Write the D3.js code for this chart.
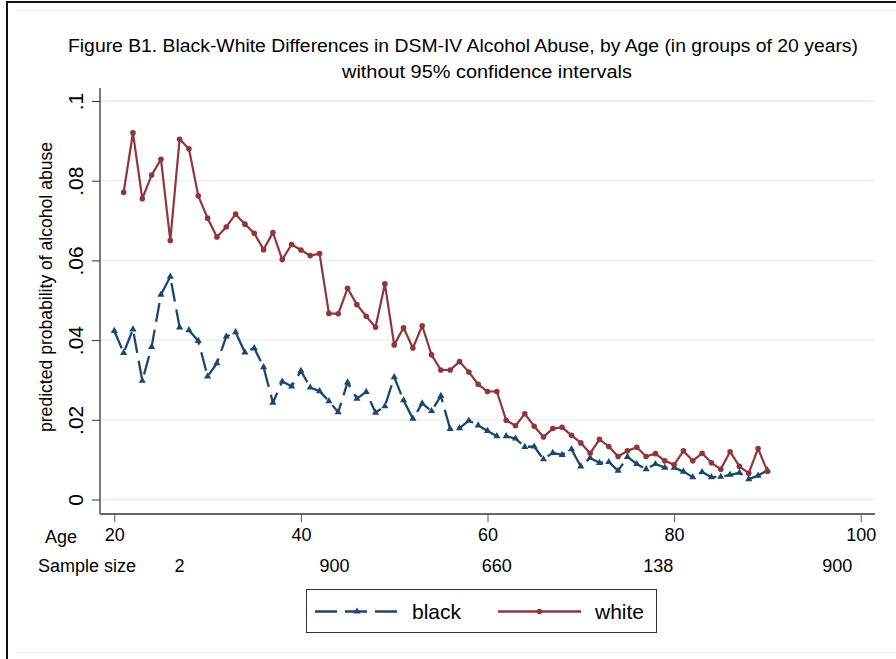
<!DOCTYPE html>
<html>
<head>
<meta charset="utf-8">
<script src="https://cdn.jsdelivr.net/npm/d3@7/dist/d3.min.js"></script>
<style>
  html, body { margin: 0; padding: 0; background: #fff; }
  svg { display: block; font-family: "Liberation Sans", Arial, sans-serif; }
</style>
</head>
<body>
<svg id="chart" width="896" height="659"></svg>
<script>
// Predicted probability of DSM-IV alcohol abuse by single year of age
const blackAges = [20,21,22,23,24,25,26,27,28,29,30,31,32,33,34,35,36,37,38,39,40,41,42,43,44,45,46,47,48,49,50,51,52,53,54,55,56,57,58,59,60,61,62,63,64,65,66,67,68,69,70,71,72,73,74,75,76,77,78,79,80,81,82,83,84,85,86,87,88,89,90];
const blackValues = [
  .0423,.0368,.0427,.0298,.0383,.0514,.0559,.0432,.0425,.0398,
  .0309,.0342,.0409,.0420,.0369,.0380,.0332,.0243,.0296,.0284,
  .0323,.0281,.0272,.0247,.0219,.0294,.0253,.0270,.0218,.0234,
  .0307,.0249,.0203,.0241,.0222,.0260,.0177,.0179,.0198,.0186,
  .0172,.0159,.0159,.0153,.0132,.0133,.0101,.0117,.0112,.0126,
  .0083,.0104,.0092,.0094,.0072,.0107,.0089,.0076,.0089,.0080,
  .0080,.0070,.0056,.0069,.0056,.0057,.0062,.0067,.0051,.0060,
  .0073
];
const whiteAges = [21,22,23,24,25,26,27,28,29,30,31,32,33,34,35,36,37,38,39,40,41,42,43,44,45,46,47,48,49,50,51,52,53,54,55,56,57,58,59,60,61,62,63,64,65,66,67,68,69,70,71,72,73,74,75,76,77,78,79,80,81,82,83,84,85,86,87,88,89,90];
const whiteValues = [
  .0771,.0920,.0755,.0814,.0854,.0650,.0904,.0880,.0762,.0706,
  .0659,.0684,.0716,.0691,.0668,.0627,.0670,.0602,.0640,.0626,
  .0612,.0617,.0467,.0466,.0530,.0489,.0460,.0432,.0541,.0388,
  .0431,.0380,.0436,.0363,.0325,.0325,.0346,.0320,.0289,.0271,
  .0271,.0199,.0185,.0215,.0184,.0157,.0178,.0181,.0161,.0142,
  .0116,.0151,.0133,.0108,.0122,.0131,.0108,.0115,.0097,.0087,
  .0122,.0097,.0116,.0092,.0076,.0120,.0083,.0066,.0128,.0071
];
const ageTicks = [20, 40, 60, 80, 100];
const probTicks = [0, .02, .04, .06, .08, .1];
const probTickLabels = ["0", ".02", ".04", ".06", ".08", ".1"];
const sampleSizeLabels = ["2", "900", "660", "138", "900"];
const sampleSizeAt = [27, 43.6, 61, 78.3, 97.5];
const seriesNames = ["black", "white"];

const navy = "#1a476f", maroon = "#90353b", grid = "#e6eef0";

const svg = d3.select("#chart");

// graph region frame
svg.append("rect").attr("x", 7).attr("y", 2).attr("width", 1000).attr("height", 1000)
  .attr("fill", "#fff").attr("stroke", "#111").attr("stroke-width", 2);
[10.5, 652.5].forEach(yy => svg.append("line")
  .attr("x1", 16).attr("x2", 896).attr("y1", yy).attr("y2", yy)
  .attr("stroke", "#e6eef0").attr("stroke-width", 1.2));

// plot region
const plotLeft = 100, plotRight = 875, plotTop = 88, plotBottom = 514;
const x = d3.scaleLinear().domain([20, 100]).range([114.3, 860.7]);
const y = d3.scaleLinear().domain([0, .1]).range([499.5, 101]);

// horizontal grid
svg.append("g").selectAll("line").data(probTicks).join("line")
  .attr("x1", plotLeft + 1).attr("x2", plotRight)
  .attr("y1", d => y(d)).attr("y2", d => y(d))
  .attr("stroke", grid).attr("stroke-width", 1.3);

// y axis
const yAxis = d3.axisLeft(y).tickValues(probTicks).tickSize(8).tickPadding(0)
  .tickFormat((d, i) => probTickLabels[i]);
const gy = svg.append("g").attr("transform", `translate(${plotLeft},0)`).call(yAxis);
gy.attr("font-size", null).attr("font-family", null);
gy.select(".domain").attr("d", `M0,${plotTop}V${plotBottom}`).attr("stroke", "#222").attr("stroke-width", 1.2);
gy.selectAll(".tick line").attr("stroke", "#333");
gy.selectAll(".tick text")
  .attr("x", 0).attr("dy", 0)
  .attr("text-anchor", "middle")
  .attr("transform", "translate(-17,0) rotate(-90)")
  .style("font-size", "21px").attr("fill", "#000");

// x axis
const xAxis = d3.axisBottom(x).tickValues(ageTicks).tickSize(8).tickPadding(6).tickFormat(d3.format("d"));
const gx = svg.append("g").attr("transform", `translate(0,${plotBottom})`).call(xAxis);
gx.attr("font-size", null).attr("font-family", null);
gx.select(".domain").attr("d", `M${plotLeft},0H${plotRight}`).attr("stroke", "#666").attr("stroke-width", 2);
gx.selectAll(".tick line").attr("stroke", "#555");
gx.selectAll(".tick text").style("font-size", "18px").attr("fill", "#000");

// extra rows under the age axis
svg.append("text").attr("x", 45).attr("y", 543).attr("font-size", 18).text("Age");
svg.append("text").attr("x", 38).attr("y", 572).attr("font-size", 18).text("Sample size");
svg.append("g").selectAll("text").data(sampleSizeLabels).join("text")
  .attr("x", (d, i) => x(sampleSizeAt[i])).attr("y", 572)
  .attr("text-anchor", "middle").attr("font-size", 18).text(d => d);

// titles
svg.append("text").attr("x", 463).attr("y", 52).attr("text-anchor", "middle")
  .attr("font-size", 17.5).attr("textLength", 790).attr("lengthAdjust", "spacingAndGlyphs")
  .text("Figure B1. Black-White Differences in DSM-IV Alcohol Abuse, by Age (in groups of 20 years)");
svg.append("text").attr("x", 487).attr("y", 78).attr("text-anchor", "middle")
  .attr("font-size", 17.5).attr("textLength", 290).attr("lengthAdjust", "spacingAndGlyphs")
  .text("without 95% confidence intervals");
svg.append("text").attr("transform", "translate(52,287) rotate(-90)").attr("text-anchor", "middle")
  .attr("font-size", 17.5).attr("textLength", 290).attr("lengthAdjust", "spacingAndGlyphs")
  .text("predicted probability of alcohol abuse");

// series
const line = d3.line().x(d => x(d[0])).y(d => y(d[1]));
const blackPts = blackAges.map((a, i) => [a, blackValues[i]]);
const whitePts = whiteAges.map((a, i) => [a, whiteValues[i]]);

svg.append("path").datum(blackPts).attr("d", line).attr("fill", "none")
  .attr("stroke", navy).attr("stroke-width", 2.3).attr("stroke-dasharray", "19,8")
  .attr("stroke-linejoin", "round");
const tri = d3.symbol().type(d3.symbolTriangle).size(22);
svg.append("g").selectAll("path").data(blackPts).join("path")
  .attr("d", tri).attr("transform", d => `translate(${x(d[0])},${y(d[1])})`).attr("fill", navy);

svg.append("path").datum(whitePts).attr("d", line).attr("fill", "none")
  .attr("stroke", maroon).attr("stroke-width", 2.2).attr("stroke-linejoin", "round");
svg.append("g").selectAll("circle").data(whitePts).join("circle")
  .attr("cx", d => x(d[0])).attr("cy", d => y(d[1])).attr("r", 2.8).attr("fill", maroon);

// legend
const lg = svg.append("g");
lg.append("rect").attr("x", 306.5).attr("y", 589.5).attr("width", 350).attr("height", 43)
  .attr("fill", "#fff").attr("stroke", "#333").attr("stroke-width", 1);
const legendItems = [
  { name: seriesNames[0], color: navy, x0: 315, x1: 399, tx: 412, dash: "19,8", marker: "tri" },
  { name: seriesNames[1], color: maroon, x0: 498, x1: 581, tx: 595, dash: null, marker: "circle" }
];
legendItems.forEach(it => {
  lg.append("line").attr("x1", it.x0).attr("x2", it.x1).attr("y1", 611.5).attr("y2", 611.5)
    .attr("stroke", it.color).attr("stroke-width", 2.3)
    .attr("stroke-dasharray", it.dash ? "22,8" : null);
  const mx = (it.x0 + it.x1) / 2;
  if (it.marker === "tri") {
    lg.append("path").attr("d", tri).attr("transform", `translate(${mx},611.5)`).attr("fill", it.color);
  } else {
    lg.append("circle").attr("cx", mx).attr("cy", 611.5).attr("r", 2.8).attr("fill", it.color);
  }
  lg.append("text").attr("x", it.tx).attr("y", 619).attr("font-size", 21).text(it.name);
});
</script>
</body>
</html>
